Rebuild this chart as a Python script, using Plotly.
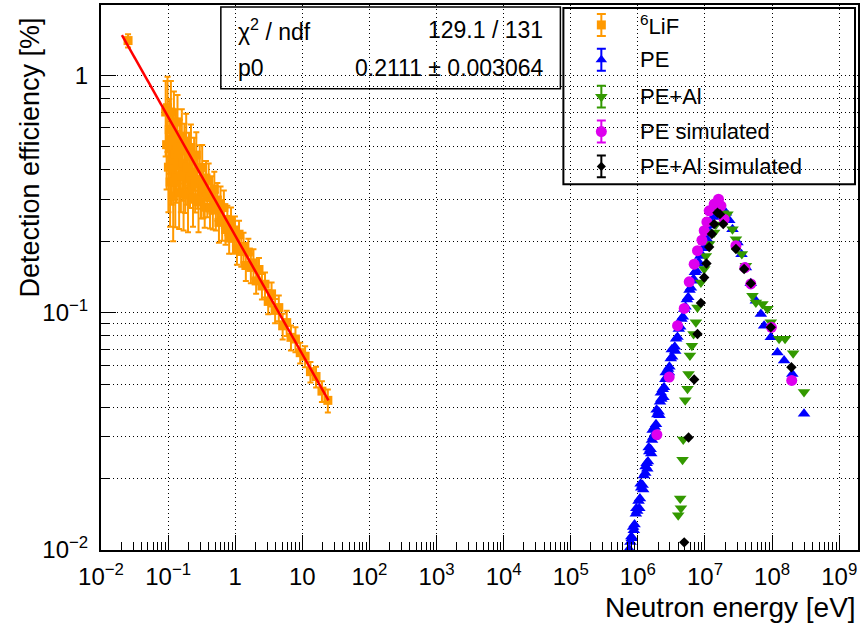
import plotly.graph_objects as go

# ---------------- data ----------------
lif_E = [0.0253,
         0.092, 0.095, 0.098, 0.101, 0.104, 0.107, 0.110, 0.113, 0.116, 0.119,
         0.122, 0.125, 0.128, 0.131, 0.134, 0.138, 0.142, 0.146, 0.150, 0.155,
         0.160, 0.165, 0.170, 0.175, 0.180, 0.186, 0.192, 0.198, 0.205, 0.212,
         0.219, 0.227, 0.235, 0.244, 0.253, 0.263, 0.273, 0.284, 0.296, 0.309,
         0.322, 0.336, 0.351, 0.367, 0.384, 0.402, 0.421, 0.442, 0.464, 0.488,
         0.514, 0.542, 0.572, 0.604, 0.639, 0.677, 0.718, 0.763, 0.812, 0.866,
         0.925, 0.99, 1.06, 1.14, 1.23, 1.33, 1.44, 1.57, 1.71, 1.87,
         2.05, 2.26, 2.5, 2.78, 3.1, 3.48, 3.93, 4.46, 5.09, 5.85,
         6.77, 7.9, 9.3, 11.0, 13.2, 16.0, 19.6, 24.0]
lif_eff = [1.40,
           0.70, 0.51, 0.73, 0.41, 0.59, 0.355, 0.70, 0.44, 0.53, 0.31,
           0.635, 0.465, 0.354, 0.555, 0.415, 0.636, 0.448, 0.32, 0.50, 0.375,
           0.554, 0.426, 0.317, 0.48, 0.373, 0.528, 0.41, 0.313, 0.457, 0.366,
           0.496, 0.39, 0.305, 0.436, 0.349, 0.461, 0.364, 0.293, 0.407, 0.334,
           0.409, 0.335, 0.278, 0.369, 0.307, 0.36, 0.276, 0.318, 0.273, 0.332,
           0.271, 0.298, 0.24, 0.288, 0.245, 0.277, 0.224, 0.247, 0.206, 0.243,
           0.206, 0.223, 0.185, 0.214, 0.181, 0.19, 0.158, 0.18, 0.155, 0.162,
           0.136, 0.152, 0.1295, 0.1317, 0.1115, 0.12, 0.1022, 0.105, 0.088, 0.0908,
           0.0787, 0.0774, 0.0678, 0.0655, 0.0564, 0.0538, 0.0467, 0.0427]
lif_err = [0.09,
           0.245, 0.18, 0.255, 0.145, 0.205, 0.125, 0.245, 0.155, 0.185, 0.11,
           0.22, 0.165, 0.125, 0.165, 0.125, 0.19, 0.135, 0.095, 0.15, 0.11,
           0.165, 0.13, 0.095, 0.145, 0.11, 0.16, 0.125, 0.095, 0.115, 0.09,
           0.125, 0.1, 0.075, 0.11, 0.085, 0.115, 0.09, 0.075, 0.1, 0.085,
           0.1, 0.085, 0.05, 0.066, 0.055, 0.065, 0.05, 0.057, 0.049, 0.06,
           0.049, 0.054, 0.043, 0.052, 0.044, 0.05, 0.031, 0.035, 0.029, 0.034,
           0.029, 0.031, 0.026, 0.03, 0.025, 0.027, 0.022, 0.025, 0.022, 0.023,
           0.016, 0.018, 0.016, 0.016, 0.013, 0.014, 0.012, 0.013, 0.011, 0.011,
           0.0095, 0.0093, 0.0068, 0.0066, 0.0056, 0.0054, 0.0047, 0.0047]

fit_p0 = 0.2111
fit_E = [0.0205, 24.5]

pe_E = [7.41e5, 7.76e5, 8.13e5, 8.51e5, 8.91e5, 9.33e5, 9.77e5, 1.023e6, 1.072e6, 1.122e6,
        1.175e6, 1.230e6, 1.288e6, 1.349e6, 1.413e6, 1.479e6, 1.549e6, 1.622e6, 1.698e6, 1.778e6,
        1.862e6, 1.950e6, 2.042e6, 2.138e6, 2.239e6, 2.344e6, 2.455e6, 2.570e6, 2.692e6, 2.818e6,
        2.951e6, 3.090e6, 3.236e6, 3.388e6, 3.548e6, 3.715e6, 3.890e6, 4.074e6, 4.266e6, 4.467e6,
        4.677e6, 4.898e6, 5.129e6, 5.370e6, 5.623e6, 5.888e6, 6.166e6, 6.457e6, 6.761e6, 7.079e6,
        7.413e6, 7.762e6, 8.128e6, 8.511e6, 8.913e6, 9.333e6, 9.772e6, 1.023e7, 1.072e7, 1.122e7,
        1.175e7, 1.230e7, 1.288e7, 1.349e7, 1.413e7, 1.479e7, 1.549e7,
        1.70e7, 2.05e7, 2.30e7, 2.57e7, 3.05e7, 3.50e7, 4.07e7, 4.80e7, 5.73e7, 6.80e7,
        7.60e7, 9.57e7, 1.20e8, 1.51e8, 2.00e8, 2.99e8,
        8.0e5, 8.7e5, 9.5e5, 1.05e6, 1.10e6, 1.20e6, 1.30e6, 1.38e6, 1.45e6, 1.58e6,
        1.66e6, 1.82e6, 1.90e6, 2.10e6, 2.20e6, 2.40e6, 2.60e6, 2.90e6, 3.20e6, 3.60e6]
pe_eff = [0.0101, 0.0108, 0.0112, 0.0125, 0.0128, 0.0142, 0.0146, 0.0161, 0.0165, 0.0183,
          0.0188, 0.0206, 0.0211, 0.0232, 0.0236, 0.0260, 0.0266, 0.0291, 0.0299, 0.0330,
          0.0339, 0.0372, 0.0382, 0.0421, 0.0433, 0.0476, 0.0485, 0.0524, 0.0536, 0.0579,
          0.0592, 0.0641, 0.0652, 0.0704, 0.0718, 0.0776, 0.0790, 0.0853, 0.0871, 0.0940,
          0.0961, 0.1035, 0.1058, 0.1136, 0.1160, 0.1245, 0.1272, 0.1362, 0.1386, 0.1479,
          0.1505, 0.1607, 0.1632, 0.1733, 0.1757, 0.1866, 0.1891, 0.2008, 0.2036, 0.2162,
          0.2192, 0.2327, 0.2365, 0.2528, 0.2583, 0.2755, 0.2830,
          0.278, 0.2637, 0.245, 0.2248, 0.1974, 0.176, 0.1549, 0.133, 0.1122, 0.0988,
          0.0881, 0.0787, 0.068, 0.0628, 0.0552, 0.0375,
          0.0114, 0.0121, 0.0150, 0.0150, 0.0190, 0.0180, 0.0225, 0.0220, 0.0270, 0.0255,
          0.0320, 0.0310, 0.0390, 0.0370, 0.0460, 0.0440, 0.0560, 0.0560, 0.0700, 0.0690]

peal_E = [3.99e6, 4.27e6, 4.38e6, 4.63e6, 4.74e6, 5.07e6, 5.49e6, 5.69e6, 5.96e6, 6.38e6,
          6.75e6, 7.32e6, 7.73e6, 8.69e6, 9.73e6, 1.03e7, 1.155e7, 1.37e7, 1.45e7, 1.63e7,
          1.85e7, 2.16e7, 2.57e7, 2.89e7, 3.54e7, 4.07e7, 5.10e7, 5.73e7, 7.18e7, 8.51e7,
          9.57e7, 1.27e8, 1.56e8, 2.06e8, 2.99e8]
peal_eff = [0.0140, 0.0165, 0.0150, 0.0240, 0.0292, 0.0427, 0.0478, 0.0552, 0.0659, 0.0726,
            0.0813, 0.091, 0.1052, 0.134, 0.1528, 0.1734, 0.1945, 0.2173, 0.235, 0.2685,
            0.262, 0.260, 0.2248, 0.204, 0.1767, 0.1574, 0.1178, 0.1104, 0.1088, 0.1038,
            0.091, 0.0776, 0.0776, 0.0675, 0.0463]

pesim_E = [1.92e6, 2.93e6, 3.90e6, 4.90e6, 5.82e6, 6.90e6, 7.73e6, 9.00e6, 9.73e6, 1.067e7,
           1.155e7, 1.37e7, 1.59e7, 1.73e7, 1.93e7, 2.89e7, 3.93e7, 4.82e7, 9.77e7, 1.96e8]
pesim_eff = [0.0306, 0.0535, 0.0881, 0.1042, 0.1349, 0.160, 0.1824, 0.2018, 0.2213, 0.241,
             0.2685, 0.2866, 0.3006, 0.2818, 0.2475, 0.1914, 0.1549, 0.1321, 0.0867, 0.0518]

pealsim_E = [4.90e6, 5.69e6, 6.90e6, 7.73e6, 8.69e6, 9.73e6, 1.052e7, 1.155e7, 1.268e7, 1.37e7,
             1.535e7, 1.67e7, 1.87e7, 2.89e7, 3.83e7, 4.82e7, 9.57e7, 1.94e8]
pealsim_eff = [0.01077, 0.0298, 0.0523, 0.0813, 0.1099, 0.1406, 0.161, 0.189, 0.2143, 0.236,
               0.2637, 0.260, 0.236, 0.1853, 0.1528, 0.1328, 0.0867, 0.0589]

x_tickvals = [1e-2, 1e-1, 1, 10, 1e2, 1e3, 1e4, 1e5, 1e6, 1e7, 1e8, 1e9]
x_ticktext = ["10<sup>\u22122</sup>", "10<sup>\u22121</sup>", "1", "10", "10<sup>2</sup>",
              "10<sup>3</sup>", "10<sup>4</sup>", "10<sup>5</sup>", "10<sup>6</sup>",
              "10<sup>7</sup>", "10<sup>8</sup>", "10<sup>9</sup>"]
y_tickvals = [1e-2, 1e-1, 1]
y_ticktext = ["10<sup>\u22122</sup>", "10<sup>\u22121</sup>", "1"]

legend_labels = ["<sup>6</sup>LiF", "PE", "PE+Al", "PE simulated", "PE+Al simulated"]
stats_rows = [("\u03c7<sup>2</sup> / ndf", "129.1 / 131"), ("p0", "0.2111 \u00b1 0.003064")]

# ---------------- styles ----------------
FONT = "Liberation Sans, Arial, Helvetica, sans-serif"
C_LIF, C_PE, C_PEAL, C_PESIM, C_PEALSIM = "#ff9900", "#0000ff", "#339900", "#dd00ee", "#000000"
FIT_COLOR = "#ff0000"
GRID_DASH = "1px,3px"

# plot-area geometry (pixels) and axis ranges (log10)
W, H = 863, 626
PL, PR, PT, PB = 101, 859, 3, 550
XR = [-2, 9.28]
YR = [-2, 0.296]


def px2x(px):
    return 10 ** (XR[0] + (px - PL) / (PR - PL) * (XR[1] - XR[0]))


def px2y(py):
    return 10 ** (YR[0] + (PB - py) / (PB - PT) * (YR[1] - YR[0]))


def paper_x(px):
    return (px - PL) / (PR - PL)


def paper_y(py):
    return (PB - py) / (PB - PT)


fig = go.Figure()

# data
fig.add_trace(go.Scatter(
    x=lif_E, y=lif_eff, mode="markers",
    marker=dict(symbol="square", size=9, color=C_LIF),
    error_y=dict(type="data", array=lif_err, color=C_LIF, thickness=2, width=3),
    hoverinfo="skip"))
fig.add_trace(go.Scatter(
    x=fit_E, y=[fit_p0 / e ** 0.5 for e in fit_E], mode="lines",
    line=dict(color=FIT_COLOR, width=2.5), hoverinfo="skip"))
fig.add_trace(go.Scatter(
    x=pe_E, y=pe_eff, mode="markers",
    marker=dict(symbol="triangle-up", size=11, color=C_PE), hoverinfo="skip"))
fig.add_trace(go.Scatter(
    x=peal_E, y=peal_eff, mode="markers",
    marker=dict(symbol="triangle-down", size=11, color=C_PEAL), hoverinfo="skip"))
fig.add_trace(go.Scatter(
    x=pesim_E, y=pesim_eff, mode="markers",
    marker=dict(symbol="circle", size=11, color=C_PESIM), hoverinfo="skip"))
fig.add_trace(go.Scatter(
    x=pealsim_E, y=pealsim_eff, mode="markers",
    marker=dict(symbol="diamond", size=8, color=C_PEALSIM), hoverinfo="skip"))

# ---------------- legend (manual, ROOT style) ----------------
leg_rows_py = [23, 58, 95, 130, 165]
leg_marker_px = 602
leg_symbols = [("square", 9, C_LIF), ("triangle-up", 10, C_PE), ("triangle-down", 11, C_PEAL),
               ("circle", 11, C_PESIM), ("diamond", 7, C_PEALSIM)]
for (sym, sz, col), py, lab in zip(leg_symbols, leg_rows_py, legend_labels):
    yc = px2y(py)
    fig.add_trace(go.Scatter(
        x=[px2x(leg_marker_px)], y=[yc], mode="markers", cliponaxis=False,
        marker=dict(symbol=sym, size=sz, color=col),
        error_y=dict(type="data", array=[px2y(py - 11) - yc], arrayminus=[yc - px2y(py + 11)],
                     color=col, thickness=2, width=4.5),
        hoverinfo="skip"))
    fig.add_annotation(x=paper_x(639), y=paper_y(py), xref="paper", yref="paper",
                       text=lab, showarrow=False, xanchor="left", yanchor="middle",
                       font=dict(family=FONT, size=22, color="black"))

fig.add_shape(type="rect", xref="paper", yref="paper", layer="between",
              x0=paper_x(564), x1=paper_x(856), y0=paper_y(183), y1=paper_y(6),
              line=dict(color="black", width=2), fillcolor="white")

# ---------------- stats box ----------------
fig.add_shape(type="rect", xref="paper", yref="paper", layer="between",
              x0=paper_x(221), x1=paper_x(561), y0=paper_y(87), y1=paper_y(5),
              line=dict(color="black", width=1.5), fillcolor="white")
for (lab, val), py in zip(stats_rows, [28, 66]):
    fig.add_annotation(x=paper_x(236), y=paper_y(py), xref="paper", yref="paper",
                       text=lab, showarrow=False, xanchor="left", yanchor="middle",
                       font=dict(family=FONT, size=23, color="black"))
    fig.add_annotation(x=paper_x(546), y=paper_y(py), xref="paper", yref="paper",
                       text=val, showarrow=False, xanchor="right", yanchor="middle",
                       font=dict(family=FONT, size=23, color="black"))

# ---------------- axis titles ----------------
fig.add_annotation(x=paper_x(858), y=paper_y(608), xref="paper", yref="paper",
                   text="Neutron energy [eV]", showarrow=False, xanchor="right", yanchor="middle",
                   borderpad=0,
                   font=dict(family=FONT, size=28, color="black"))
fig.add_annotation(x=paper_x(30), y=paper_y(156), xref="paper", yref="paper",
                   text="Detection efficiency [%]", showarrow=False, textangle=-90,
                   xanchor="center", yanchor="middle",
                   font=dict(family=FONT, size=27, color="black"))

minor_x = [m * 10 ** d for d in range(-2, 9) for m in range(2, 10)]
minor_y = [m * 10 ** d for d in range(-2, 1) for m in range(2, 10)]

axis_common = dict(type="log", showline=True, linecolor="black", linewidth=2, mirror=True,
                   ticks="inside", tickcolor="black", tickwidth=1, ticklen=15,
                   showgrid=True, gridcolor="black", gridwidth=1, griddash=GRID_DASH,
                   zeroline=False, tickfont=dict(family=FONT, size=24, color="black"))

fig.update_xaxes(range=XR, tickmode="array", tickvals=x_tickvals, ticktext=x_ticktext,
                 ticklabelstandoff=4,
                 minor=dict(tickmode="array", tickvals=minor_x, ticks="inside", ticklen=8,
                            tickcolor="black", tickwidth=1, showgrid=False),
                 **axis_common)
fig.update_yaxes(range=YR, tickmode="array", tickvals=y_tickvals, ticktext=y_ticktext,
                 ticklabelstandoff=6,
                 minor=dict(tickmode="array", tickvals=minor_y, ticks="inside", ticklen=8,
                            tickcolor="black", tickwidth=1, showgrid=True,
                            gridcolor="black", gridwidth=1, griddash=GRID_DASH),
                 **axis_common)

fig.update_layout(width=W, height=H, margin=dict(l=PL, r=W - PR, t=PT, b=H - PB),
                  plot_bgcolor="white", paper_bgcolor="white", showlegend=False,
                  font=dict(family=FONT, color="black"))

fig.write_html("out.html")
